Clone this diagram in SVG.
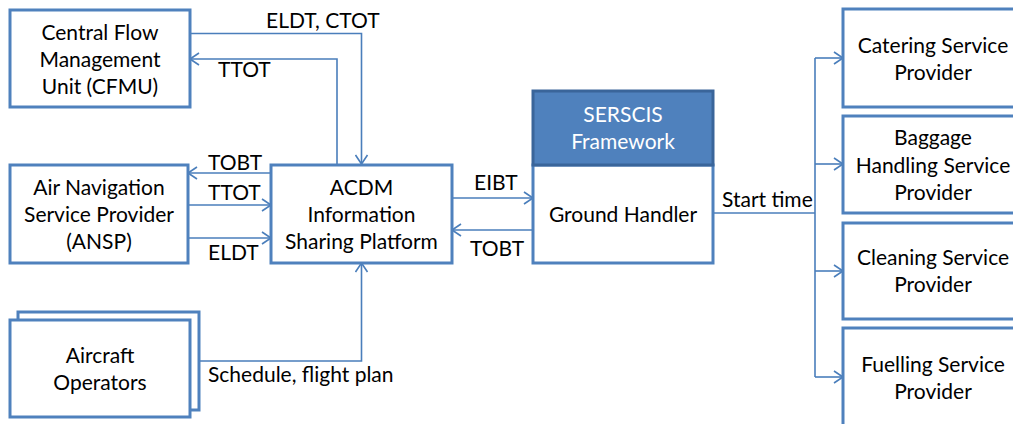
<svg xmlns="http://www.w3.org/2000/svg" width="1013" height="424" viewBox="0 0 1013 424">
<style>
.box{fill:#fff;stroke:#4F81BD;stroke-width:3}
.hdr{fill:#4F81BD;stroke:#3A659A;stroke-width:3}
.t{font-family:Lato,"Liberation Sans",sans-serif;font-size:21px;fill:#000;text-anchor:middle}
.w{fill:#fff}
.lbl{font-family:Lato,"Liberation Sans",sans-serif;font-size:21px;fill:#000}
.c{fill:none;stroke:#4A7EBB;stroke-width:1.6}
</style>
<defs>
<marker id="ah" markerUnits="userSpaceOnUse" markerWidth="12" markerHeight="14" refX="10" refY="7" orient="auto">
<path d="M1,1 L10,7 L1,13" fill="none" stroke="#4A7EBB" stroke-width="1.6"/>
</marker>
</defs>
<g id="connectors">
<path class="c" d="M190,33.5 H361.5 V164" marker-end="url(#ah)"/>
<path class="c" d="M337,164 V59 H190" marker-end="url(#ah)"/>
<path class="c" d="M271,173 H188" marker-end="url(#ah)"/>
<path class="c" d="M188,205 H271" marker-end="url(#ah)"/>
<path class="c" d="M188,238 H271" marker-end="url(#ah)"/>
<path class="c" d="M452,198 H533" marker-end="url(#ah)"/>
<path class="c" d="M533,230 H452" marker-end="url(#ah)"/>
<path class="c" d="M199,361 H361.5 V263" marker-end="url(#ah)"/>
<path class="c" d="M713,213 H815"/>
<path class="c" d="M815,58 V377"/>
<path class="c" d="M815,58 H843" marker-end="url(#ah)"/>
<path class="c" d="M815,164 H843" marker-end="url(#ah)"/>
<path class="c" d="M815,271 H843" marker-end="url(#ah)"/>
<path class="c" d="M815,377 H843" marker-end="url(#ah)"/>
<text class="lbl" x="266" y="28">ELDT, CTOT</text>
<text class="lbl" x="218" y="77">TTOT</text>
<text class="lbl" x="208" y="170">TOBT</text>
<text class="lbl" x="208" y="200">TTOT</text>
<text class="lbl" x="208" y="260">ELDT</text>
<text class="lbl" x="474" y="190">EIBT</text>
<text class="lbl" x="470" y="256">TOBT</text>
<text class="lbl" x="208" y="382">Schedule, flight plan</text>
<text class="lbl" x="722" y="207">Start time</text>
</g>
<g id="cfmu">
<rect class="box" x="10" y="10" width="180" height="97"/>
<text class="t" x="100" y="40">Central Flow</text>
<text class="t" x="100" y="67">Management</text>
<text class="t" x="100" y="94">Unit (CFMU)</text>
</g>
<g id="ansp">
<rect class="box" x="10" y="165" width="178" height="98"/>
<text class="t" x="99" y="195">Air Navigation</text>
<text class="t" x="99" y="222">Service Provider</text>
<text class="t" x="99" y="249">(ANSP)</text>
</g>
<g id="acdm">
<rect class="box" x="271" y="165" width="181" height="98"/>
<text class="t" x="361.5" y="195">ACDM</text>
<text class="t" x="361.5" y="222">Information</text>
<text class="t" x="361.5" y="249">Sharing Platform</text>
</g>
<g id="aircraft-operators">
<rect class="box" x="18" y="312" width="181" height="98"/>
<rect class="box" x="10" y="320" width="180" height="97"/>
<text class="t" x="100" y="363">Aircraft</text>
<text class="t" x="100" y="390">Operators</text>
</g>
<g id="ground-handler">
<rect class="box" x="533" y="165" width="180" height="98"/>
<rect class="hdr" x="533" y="91" width="180" height="74"/>
<text class="t w" x="623" y="122">SERSCIS</text>
<text class="t w" x="623" y="149">Framework</text>
<text class="t" x="623" y="222">Ground Handler</text>
</g>
<g id="catering">
<rect class="box" x="843" y="9" width="180" height="98"/>
<text class="t" x="933" y="53">Catering Service</text>
<text class="t" x="933" y="80">Provider</text>
</g>
<g id="baggage">
<rect class="box" x="843" y="116" width="180" height="97"/>
<text class="t" x="933" y="145">Baggage</text>
<text class="t" x="933" y="173">Handling Service</text>
<text class="t" x="933" y="200">Provider</text>
</g>
<g id="cleaning">
<rect class="box" x="843" y="223" width="180" height="96"/>
<text class="t" x="933" y="265">Cleaning Service</text>
<text class="t" x="933" y="292">Provider</text>
</g>
<g id="fuelling">
<rect class="box" x="843" y="328" width="180" height="110"/>
<text class="t" x="933" y="372">Fuelling Service</text>
<text class="t" x="933" y="399">Provider</text>
</g>
</svg>
